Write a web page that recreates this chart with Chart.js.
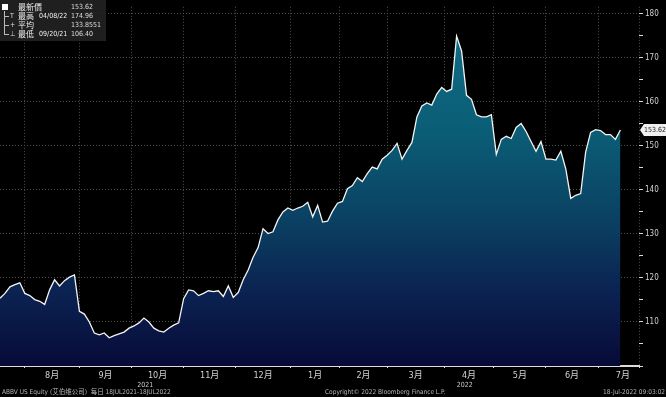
<!DOCTYPE html>
<html>
<head>
<meta charset="utf-8">
<script src="https://cdn.jsdelivr.net/npm/chart.js@4.4.0/dist/chart.umd.min.js"></script>
<style>
  html, body { margin: 0; padding: 0; background: #000; }
  #wrap { position: relative; width: 666px; height: 397px; background: #000; overflow: hidden;
          font-family: 'DejaVu Sans Condensed', 'DejaVu Sans', 'Noto Sans CJK SC', sans-serif; }
  #wrap canvas { position: absolute; left: 0; top: 0; }
  #legend { position: absolute; left: 0; top: 0; width: 106px; height: 41px; background: rgba(34,34,34,0.92);
            color: #eee; font-size: 7px; line-height: 9px; }
  #legend .row { position: absolute; left: 0; width: 106px; height: 9px; white-space: nowrap; }
  #legend .sym { position: absolute; left: 10px; color: #ddd; }
  #legend .lab { position: absolute; left: 18px; top: -1px; font-size: 8px; line-height: 10px;
                 font-family: 'Noto Sans CJK TC', 'Noto Sans CJK SC', sans-serif; }
  #legend .date { position: absolute; left: 39px; }
  #legend .val { position: absolute; left: 71px; color: #ddd; }
  #legend .sq { position: absolute; left: 2px; top: 4px; width: 6px; height: 6px; background: #fff; }
  #legend .trunk { position: absolute; left: 4px; top: 11px; width: 0; height: 24px; border-left: 1px solid #bbb; }
  #legend .stub { position: absolute; left: 4px; width: 5px; height: 0; border-top: 1px solid #bbb; }
  #footer span { position: absolute; top: 388px; font-size: 6.5px; line-height: 8px; color: #b5b5b5; white-space: nowrap; }
</style>
</head>
<body>
<div id="wrap">
  <canvas id="priceChart" width="666" height="397"></canvas>
  <div id="legend"></div>
  <div id="footer">
    <span style="left:2px">ABBV US Equity (艾伯维公司)&nbsp; 每日 18JUL2021-18JUL2022</span>
    <span style="left:325px">Copyright© 2022 Bloomberg Finance L.P.</span>
    <span style="left:603px">18-Jul-2022 09:03:02</span>
  </div>
</div>
<script>
// Cierres diarios, un valor cada 2 sesiones (19-jul-2021 .. 15-jul-2022)
const STEP = 2;
const closes = [
  115.4, 116.5, 118.0, 118.5, 118.9, 116.5, 116.0, 115.1, 114.7, 114.0,
  117.3, 119.6, 118.2, 119.4, 120.2, 120.7, 112.4, 111.8, 110.0, 107.5,
  107.1, 107.5, 106.4, 106.9, 107.3, 107.7, 108.6, 109.1, 109.8, 110.9,
  110.0, 108.6, 108.0, 107.7, 108.6, 109.3, 109.8, 115.3, 117.3, 117.1,
  116.0, 116.5, 117.1, 116.9, 117.1, 115.8, 118.2, 115.6, 116.7, 119.6,
  121.8, 124.7, 126.9, 131.2, 130.1, 130.5, 133.2, 135.0, 135.9, 135.4,
  135.9, 136.3, 137.2, 133.9, 136.5, 132.7, 132.9, 135.2, 137.0, 137.4,
  140.3, 141.0, 142.8, 141.9, 143.7, 145.2, 144.8, 147.0, 147.9, 149.0,
  150.6, 147.0, 149.0, 150.8, 156.6, 159.1, 159.8, 159.3, 161.8, 163.3,
  162.4, 162.9, 174.96, 171.6, 161.5, 160.6, 157.1, 156.6, 156.6, 157.1,
  148.1, 151.5, 152.2, 151.7, 154.2, 155.1, 153.3, 151.0, 148.8, 151.0,
  147.0, 147.0, 146.8, 148.8, 144.8, 138.1, 138.8, 139.2, 148.6, 153.1,
  153.7, 153.5, 152.6, 152.6, 151.5, 153.62
];

// Sesión en la que empieza cada mes (índice de día hábil)
const monthStarts = [10, 32, 53, 74, 95, 117, 137, 156, 179, 199, 220, 241, 261];
const monthNames = ['8月', '9月', '10月', '11月', '12月', '1月', '2月', '3月', '4月', '5月', '6月', '7月'];
const yearNames = ['2021', '2022'];
const yearStarts = [0, 117];
const X_MAX = 257.5;

const yTicks = [100, 105, 110, 115, 120, 125, 130, 135, 140, 145, 150, 155, 160, 165, 170, 175, 180];
const Y_MIN = 100;
const Y_MAX = 181.63;

const legendRows = [
  { sym: '', label: '最新價', date: '', value: '153.62' },
  { sym: 'T', label: '最高', date: '04/08/22', value: '174.96' },
  { sym: '+', label: '平均', date: '', value: '133.8551' },
  { sym: '⊥', label: '最低', date: '09/20/21', value: '106.40' }
];

const points = closes.map((v, i) => ({ x: i * STEP, y: v }));
const lastPrice = closes[closes.length - 1];

// Leyenda
function buildLegend() {
  const box = document.getElementById('legend');
  let html = '<div class="sq"></div><div class="trunk"></div>';
  legendRows.forEach((r, i) => {
    const top = 3 + i * 9;
    if (i > 0) html += `<div class="stub" style="top:${top + 4}px"></div>`;
    html += `<div class="row" style="top:${top}px">` +
      (r.sym ? `<span class="sym">${r.sym}</span>` : '') +
      `<span class="lab">${r.label}</span>` +
      (r.date ? `<span class="date">${r.date}</span>` : '') +
      `<span class="val">${r.value}</span></div>`;
  });
  box.innerHTML = html;
}

// Etiqueta del último precio en el eje derecho
const lastPriceTag = {
  id: 'lastPriceTag',
  afterDraw(chart) {
    const ctx = chart.ctx;
    const y = chart.scales.y.getPixelForValue(lastPrice);
    const x = chart.chartArea.right + 1;
    ctx.save();
    ctx.fillStyle = '#f0f0f0';
    ctx.beginPath();
    ctx.moveTo(x, y);
    ctx.lineTo(x + 4, y - 6);
    ctx.lineTo(666, y - 6);
    ctx.lineTo(666, y + 6);
    ctx.lineTo(x + 4, y + 6);
    ctx.closePath();
    ctx.fill();
    ctx.fillStyle = '#222';
    ctx.font = "7px 'DejaVu Sans Condensed'";
    ctx.textBaseline = 'middle';
    ctx.fillText(lastPrice.toFixed(2), x + 4, y + 0.5);
    ctx.restore();
  }
};

function fillGradient(context) {
  const area = context.chart.chartArea;
  if (!area) return '#0a3a60';
  const g = context.chart.ctx.createLinearGradient(0, area.top, 0, area.bottom);
  g.addColorStop(0, '#0f7186');
  g.addColorStop(0.35, '#0b5d76');
  g.addColorStop(0.59, '#0a4162');
  g.addColorStop(0.79, '#0b2352');
  g.addColorStop(1, '#070a38');
  return g;
}

const labelFont = { family: "'DejaVu Sans Condensed', 'Noto Sans CJK SC', sans-serif", size: 9 };

function initializeChart() {
  const ctx = document.getElementById('priceChart').getContext('2d');
  new Chart(ctx, {
    type: 'line',
    data: {
      datasets: [{
        data: points,
        xAxisID: 'x',
        yAxisID: 'y',
        borderColor: '#f4f4f4',
        borderWidth: 1.3,
        pointRadius: 0,
        tension: 0,
        fill: 'start',
        backgroundColor: fillGradient
      }]
    },
    options: {
      responsive: false,
      animation: false,
      layout: { padding: { left: 0, right: 0, top: 0, bottom: 7 } },
      plugins: { legend: { display: false }, tooltip: { enabled: false } },
      scales: {
        x: {
          type: 'linear', position: 'bottom', min: 0, max: X_MAX, weight: 0,
          afterBuildTicks: s => {
            s.ticks = monthStarts.filter(v => v <= X_MAX).concat([X_MAX]).map(v => ({ value: v }));
          },
          afterFit: s => { s.height = 2; },
          ticks: { display: false, autoSkip: false },
          grid: { color: '#4e4e4e', tickColor: '#ddd', tickLength: 2, drawTicks: true },
          border: { display: true, color: '#dcdcdc', width: 2, dash: [1, 2] }
        },
        xm: {
          type: 'linear', position: 'bottom', min: 0, max: X_MAX, weight: 1,
          afterBuildTicks: s => {
            s.ticks = monthNames.map((n, i) => ({ value: (monthStarts[i] + monthStarts[i + 1]) / 2 }));
          },
          afterFit: s => { s.height = 13; },
          ticks: { autoSkip: false, maxRotation: 0, padding: 2, color: '#d0d0d0', font: labelFont,
                   callback: (v, i) => monthNames[i] },
          grid: { display: false, drawTicks: false },
          border: { display: false }
        },
        xy: {
          type: 'linear', position: 'bottom', min: 0, max: X_MAX, weight: 2,
          afterBuildTicks: s => {
            s.ticks = yearNames.map((n, i) => ({ value: (yearStarts[i] + (yearStarts[i + 1] ?? X_MAX)) / 2 }));
          },
          afterFit: s => { s.height = 9; },
          ticks: { autoSkip: false, maxRotation: 0, padding: 0, color: '#c8c8c8',
                   font: { family: "'DejaVu Sans Condensed', sans-serif", size: 7 },
                   callback: (v, i) => yearNames[i] },
          grid: { display: false, drawTicks: false },
          border: { display: false }
        },
        y: {
          type: 'linear', position: 'right', min: Y_MIN, max: Y_MAX,
          afterBuildTicks: s => { s.ticks = yTicks.map(v => ({ value: v })); },
          afterFit: s => { s.width = 27; },
          ticks: { padding: 2, color: '#d0d0d0',
                   font: { family: "'DejaVu Sans Condensed', sans-serif", size: 8 },
                   callback: v => (v % 10 === 0 && v > Y_MIN) ? String(v) : '' },
          grid: {
            color: c => (c.tick && c.tick.value % 10 === 0 && c.tick.value > Y_MIN) ? '#4e4e4e' : 'transparent',
            tickColor: '#d8d8d8', tickLength: 4, drawTicks: true
          },
          border: { display: false, dash: [1, 2] }
        }
      }
    },
    plugins: [lastPriceTag]
  });
}

document.addEventListener('DOMContentLoaded', function () {
  buildLegend();
  initializeChart();
});
</script>
</body>
</html>
